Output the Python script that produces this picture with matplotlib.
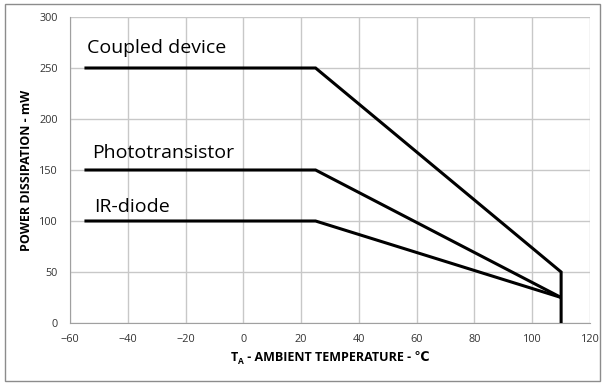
import matplotlib
matplotlib.use("Agg")
import matplotlib.pyplot as plt
from matplotlib.patches import Rectangle

plt.rcParams['font.family'] = ['Open Sans', 'DejaVu Sans']

# Data
coupled_x = [-55, 25, 110, 110]
coupled_y = [250, 250, 50, 0]
photo_x = [-55, 25, 110]
photo_y = [150, 150, 25]
ir_x = [-55, 25, 110]
ir_y = [100, 100, 25]
labels = ["Coupled device", "Phototransistor", "IR-diode"]
label_pos = [(-54, 270), (-52.5, 167), (-51.5, 114)]
xticks = list(range(-60, 121, 20))
yticks = list(range(0, 301, 50))

W, H = 607, 384
fig = plt.figure(figsize=(W/100, H/100), dpi=100)
ax = fig.add_axes([70/W, 1-323/H, 520/W, 306/H])

fig.patches.append(Rectangle((5/W, 3/H), 595/W, 377/H, transform=fig.transFigure,
                             fill=False, edgecolor='#8c8c8c', linewidth=1.0))

for xs, ys in [(coupled_x, coupled_y), (photo_x, photo_y), (ir_x, ir_y)]:
    ax.plot(xs, ys, color='black', linewidth=2.2, solid_capstyle='butt', solid_joinstyle='miter', zorder=3)

for txt, (x, y) in zip(labels, label_pos):
    ax.text(x, y, txt, fontsize=14, va='center', ha='left', color='black')

ax.set_xlim(-60, 120)
ax.set_ylim(0, 300)
ax.set_xticks(xticks)
ax.set_yticks(yticks)
ax.tick_params(axis='both', length=0, labelsize=7.8, colors='#333333')
ax.tick_params(axis='x', pad=8)
ax.tick_params(axis='y', pad=9)
ax.grid(True, color='#c8c8c8', linewidth=1.0)
ax.set_axisbelow(True)
for s in ax.spines.values():
    s.set_visible(False)
ax.spines['left'].set_visible(True)
ax.spines['bottom'].set_visible(True)
ax.spines['left'].set_color('#a0a0a0')
ax.spines['bottom'].set_color('#a0a0a0')

ax.set_ylabel("POWER DISSIPATION - mW", fontsize=9, fontweight='bold', labelpad=4)

# x label built from pieces: T, subscript A, rest (with ℃ via font fallback)
fig.canvas.draw()
r = fig.canvas.get_renderer()
base_y = 1 - 361/H
t1 = fig.text(0, base_y, "T", fontsize=9, fontweight='bold', va='baseline')
t2 = fig.text(0, base_y - 3/H, "A", fontsize=6, fontweight='bold', va='baseline')
t3 = fig.text(0, base_y, " - AMBIENT TEMPERATURE - \u2103", fontsize=9, fontweight='bold', va='baseline')
w1 = t1.get_window_extent(r).width
w2 = t2.get_window_extent(r).width
w3 = t3.get_window_extent(r).width
total = w1 + w2 + w3
cx = (70 + 260)
x0 = cx - total/2
t1.set_x(x0/W)
t2.set_x((x0 + w1)/W)
t3.set_x((x0 + w1 + w2)/W)

fig.savefig("out.png", dpi=100)
